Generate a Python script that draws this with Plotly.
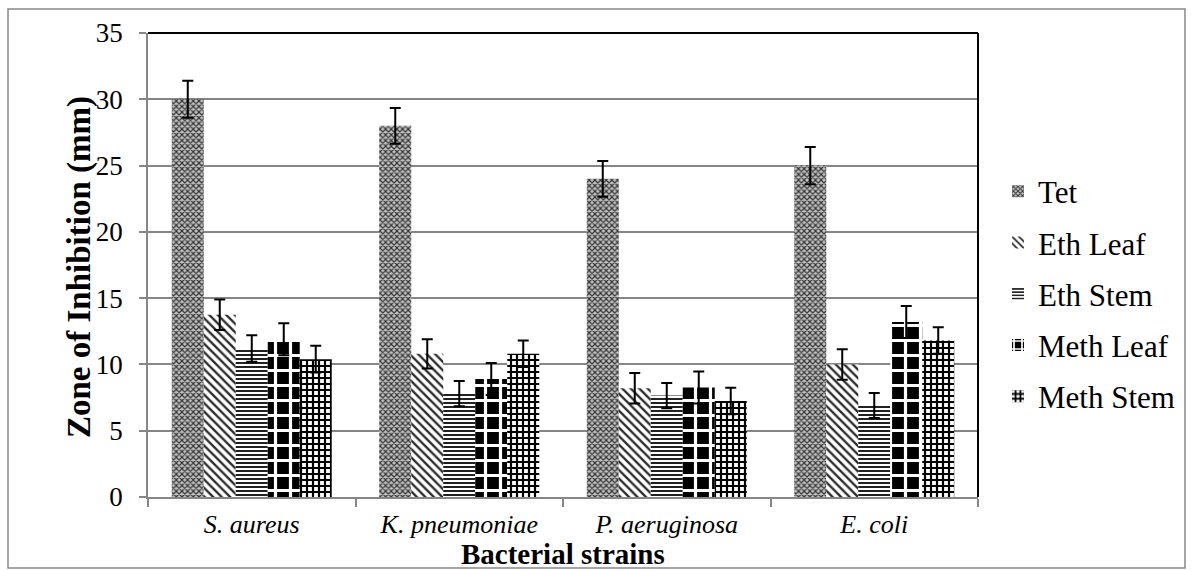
import plotly.graph_objects as go

categories = ["S. aureus", "K. pneumoniae", "P. aeruginosa", "E. coli"]
series_names = ["Tet", "Eth Leaf", "Eth Stem", "Meth Leaf", "Meth Stem"]

tet = [30.0, 28.0, 24.0, 25.0]
tet_err = [1.4, 1.35, 1.35, 1.4]
eth_leaf = [13.75, 10.8, 8.2, 10.0]
eth_leaf_err = [1.15, 1.1, 1.15, 1.15]
eth_stem = [11.2, 7.8, 7.65, 6.9]
eth_stem_err = [1.0, 0.95, 0.95, 0.95]
meth_leaf = [11.9, 8.9, 8.26, 13.2]
meth_leaf_err = [1.2, 1.2, 1.2, 1.2]
meth_stem = [10.4, 10.8, 7.25, 11.8]
meth_stem_err = [1.0, 1.0, 1.0, 1.0]

values = [tet, eth_leaf, eth_stem, meth_leaf, meth_stem]
errors = [tet_err, eth_leaf_err, eth_stem_err, meth_leaf_err, meth_stem_err]

patterns = [
    dict(shape="x", size=4, solidity=0.5, fgcolor="#333333", bgcolor="#c4c4c4", fillmode="replace"),
    dict(shape="\\", size=6, solidity=0.38, fgcolor="#2a2a2a", bgcolor="white", fillmode="replace"),
    dict(shape="-", size=4, solidity=0.5, fgcolor="#222222", bgcolor="white", fillmode="replace"),
    dict(shape="+", size=15, solidity=0.38, fgcolor="white", bgcolor="black", fillmode="replace"),
    dict(shape="+", size=6, solidity=0.6, fgcolor="black", bgcolor="white", fillmode="replace"),
]

FONT = "Liberation Serif"

fig = go.Figure()
for name, vals, errs, pat in zip(series_names, values, errors, patterns):
    fig.add_trace(go.Bar(
        name=name,
        x=categories,
        y=vals,
        legendgroup=name,
        marker=dict(color="white", line=dict(width=0), pattern=pat),
        error_y=dict(type="data", array=errs, visible=True, color="black", thickness=2, width=5.5),
    ))

W, H = 1193, 571
L, R, T, B = 148, 1193 - 978, 33, 571 - 497
pw = W - L - R
ph = H - T - B

def px(x):
    return (x - L) / pw

def py(y):
    return (H - B - y) / ph

fig.update_layout(
    template="none",
    width=W, height=H,
    margin=dict(l=L, r=R, t=T, b=B, autoexpand=False),
    paper_bgcolor="white", plot_bgcolor="white",
    barmode="group", bargap=0.229, bargroupgap=0,
    font=dict(family=FONT, color="black"),
    showlegend=True,
    legend=dict(
        x=px(998), y=py(294), xanchor="left", yanchor="middle",
        font=dict(family=FONT, size=31, color="black"),
        tracegroupgap=8, itemwidth=30, bgcolor="rgba(0,0,0,0)",
        traceorder="grouped",
    ),
    xaxis=dict(
        type="category",
        showgrid=False,
        showline=True, linecolor="#868686", linewidth=1.5,
        ticks="outside", tickson="boundaries", ticklen=8, tickcolor="#868686", tickwidth=1.5,
        tickfont=dict(family=FONT, size=26, style="italic", color="black"),
        ticklabelstandoff=3,
    ),
    yaxis=dict(
        range=[0, 35], dtick=5, tick0=0,
        showgrid=True, gridcolor="#868686", gridwidth=1.5,
        zeroline=False,
        showline=True, linecolor="#868686", linewidth=1.5,
        ticks="outside", ticklen=7, tickcolor="#868686", tickwidth=1.5,
        tickfont=dict(family=FONT, size=27, color="black"),
        ticklabelstandoff=11,
    ),
    annotations=[
        dict(text="<b>Bacterial strains</b>", xref="paper", yref="paper", x=0.5, y=py(554),
             xanchor="center", yanchor="middle", showarrow=False,
             font=dict(family=FONT, size=29, color="black")),
        dict(text="<b>Zone of Inhibition (mm)</b>", xref="paper", yref="paper", x=px(79), y=py(267),
             xanchor="center", yanchor="middle", showarrow=False, textangle=-90,
             font=dict(family=FONT, size=33, color="black")),
    ],
    shapes=[
        dict(type="line", xref="paper", yref="paper", x0=0, x1=1, y0=1, y1=1,
             line=dict(color="black", width=2)),
        dict(type="line", xref="paper", yref="paper", x0=1, x1=1, y0=0, y1=1,
             line=dict(color="black", width=2)),
        dict(type="rect", xref="paper", yref="paper", x0=px(8), x1=px(1185), y0=py(568), y1=py(9),
             line=dict(color="#888888", width=1.5), fillcolor="rgba(0,0,0,0)", layer="below"),
    ],
)

fig.write_html("out.html", config={"displayModeBar": False},
               post_script="document.body.style.margin='0px';")
